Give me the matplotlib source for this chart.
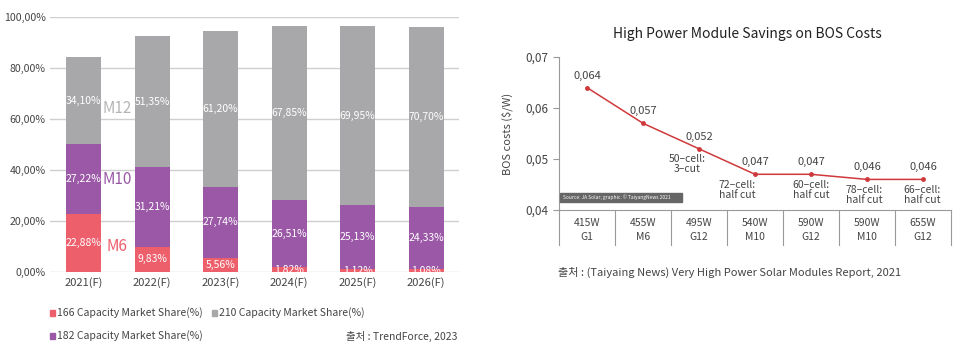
import matplotlib
matplotlib.use("Agg")
import matplotlib.pyplot as plt
from matplotlib.patches import Rectangle
from matplotlib.ticker import FuncFormatter, MultipleLocator

plt.rcParams['font.family'] = ['Noto Sans CJK KR', 'DejaVu Sans']

# ---------------- data ----------------
years = ["2021(F)", "2022(F)", "2023(F)", "2024(F)", "2025(F)", "2026(F)"]
share_166 = [22.88, 9.83, 5.56, 1.82, 1.12, 1.08]
share_182 = [27.22, 31.21, 27.74, 26.51, 25.13, 24.33]
share_210 = [34.10, 51.35, 61.20, 67.85, 69.95, 70.70]
series_names = ["166 Capacity Market Share(%)", "182 Capacity Market Share(%)",
                "210 Capacity Market Share(%)"]
size_tags = ["M6", "M10", "M12"]
left_source = "출처 : TrendForce, 2023"

bos_title = "High Power Module Savings on BOS Costs"
bos_costs = [0.064, 0.057, 0.052, 0.047, 0.047, 0.046, 0.046]
module_power = ["415W", "455W", "495W", "540W", "590W", "590W", "655W"]
wafer_size = ["G1", "M6", "G12", "M10", "G12", "M10", "G12"]
cell_layout = ["", "", "50\u2013cell:\n3\u2013cut", "72\u2013cell:\nhalf cut",
               "60\u2013cell:\nhalf cut", "78\u2013cell:\nhalf cut", "66\u2013cell:\nhalf cut"]
bos_ylabel = "BOS costs ($/W)"
right_source = "출처 : (Taiyaing News) Very High Power Solar Modules Report, 2021"
inner_source = "Source: JA Solar; graphic: © TaiyangNews 2021"

c166 = "#ee5f6c"
c182 = "#9a58a6"
c210 = "#a8a8ab"
colors = [c166, c182, c210]

W, H = 960, 350
fig = plt.figure(figsize=(W / 100, H / 100), dpi=100)


def fx(px):
    return px / W


def fy(py):
    return 1 - py / H


# ---------------- left chart ----------------
axl = fig.add_axes([fx(50), fy(272), fx(459) - fx(50), fy(16.7) - fy(272)])
xs = list(range(len(years)))
bw = 0.51
bottom = [0.0] * len(years)
for vals, col in zip([share_166, share_182, share_210], colors):
    axl.bar(xs, vals, bw, bottom=bottom, color=col, zorder=3)
    for x, v, b in zip(xs, vals, bottom):
        axl.text(x, b + v / 2, f"{v:.2f}%".replace('.', ','), ha='center', va='center',
                 color='white', fontsize=7.5, zorder=4)
    bottom = [b + v for b, v in zip(bottom, vals)]

axl.set_ylim(0, 100)
axl.set_xlim(-0.49, 5.48)
axl.yaxis.set_major_locator(MultipleLocator(20))
axl.yaxis.set_major_formatter(FuncFormatter(lambda v, p: f"{v:.2f}%".replace('.', ',')))
axl.grid(axis='y', color='#cfcfcf', linewidth=1, zorder=0)
for s in axl.spines.values():
    s.set_visible(False)
axl.tick_params(axis='both', length=0, labelsize=8, colors='#444444')
axl.tick_params(axis='y', pad=3, labelsize=7.6)
axl.set_xticks(xs)
axl.set_xticklabels(years)

# size tags next to the first bar
tag_y = [9.8, 36.4, 64.0]
tag_cols = [c166, c182, "#b5b5b5"]
for t, yv, col in zip(size_tags, tag_y, tag_cols):
    axl.text(0.49, yv, t, color=col, fontsize=11, ha='center', va='center')

# legend (manual)
leg_pos = [(50, 313), (50, 336), (212, 313)]
for (px, py), name, col in zip(leg_pos, series_names, colors):
    fig.patches.append(Rectangle((fx(px), fy(py) - 3 / H), 5 / W, 6 / H, color=col,
                                 transform=fig.transFigure))
    fig.text(fx(px + 7), fy(py), name, fontsize=7.5, color='#444444', va='center', ha='left')
fig.text(fx(457), fy(336), left_source, fontsize=7.5, color='#444444', va='center', ha='right')

# ---------------- right chart ----------------
axr = fig.add_axes([fx(559), fy(210), fx(951) - fx(559), fy(57) - fy(210)])
xr = list(range(len(bos_costs)))
axr.plot(xr, bos_costs, color='#d0393b', linewidth=1.1, marker='o', markersize=2.5, zorder=3)
axr.set_xlim(-0.5, len(bos_costs) - 0.5)
axr.set_ylim(0.04, 0.07)
axr.yaxis.set_major_locator(MultipleLocator(0.01))
axr.yaxis.set_major_formatter(FuncFormatter(lambda v, p: f"{v:.2f}".replace('.', ',')))
axr.set_xticks([])
axr.tick_params(axis='y', length=4, color='#999999', labelsize=8.5, labelcolor='#444444')
for side in ['top', 'right']:
    axr.spines[side].set_visible(False)
for side in ['left', 'bottom']:
    axr.spines[side].set_color('#999999')
    axr.spines[side].set_linewidth(0.8)
axr.set_ylabel(bos_ylabel, fontsize=8, color='#444444', labelpad=9)
axr.set_title(bos_title, fontsize=10, color='#222222', pad=14, x=0.48)

label_dx = [0, 0, -12, -18, 0, -3, -1]
for x, v, lab, dx in zip(xr, bos_costs, cell_layout, label_dx):
    axr.annotate(f"{v:.3f}".replace('.', ','), (x, v), xytext=(0, 5), textcoords='offset points',
                 ha='center', va='bottom', fontsize=8, color='#444444')
    if lab:
        axr.annotate(lab, (x, v), xytext=(dx * 0.72, -4), textcoords='offset points',
                     ha='center', va='top', fontsize=7.5, color='#444444', linespacing=1.0)

# table under x axis
xt = axr.get_xaxis_transform()
hpx = 210 - 57
for i in range(len(bos_costs) + 1):
    axr.plot([i - 0.5, i - 0.5], [0, -35 / hpx], transform=xt, color='#999999',
             linewidth=0.8, clip_on=False)
for x, pw, ws in zip(xr, module_power, wafer_size):
    axr.text(x, -13 / hpx, pw, transform=xt, ha='center', va='center', fontsize=7.5, color='#444444')
    axr.text(x, -27 / hpx, ws, transform=xt, ha='center', va='center', fontsize=7.5, color='#444444')

# inner source box
fig.patches.append(Rectangle((fx(560), fy(202)), fx(682) - fx(560), (202 - 193) / H,
                             color='#666666', transform=fig.transFigure))
fig.text(fx(563), fy(197.5), inner_source, fontsize=3.5, color='white', va='center', ha='left')

fig.text(fx(558), fy(272), right_source, fontsize=8, color='#444444', va='center', ha='left')

fig.savefig("out.png", dpi=100)
